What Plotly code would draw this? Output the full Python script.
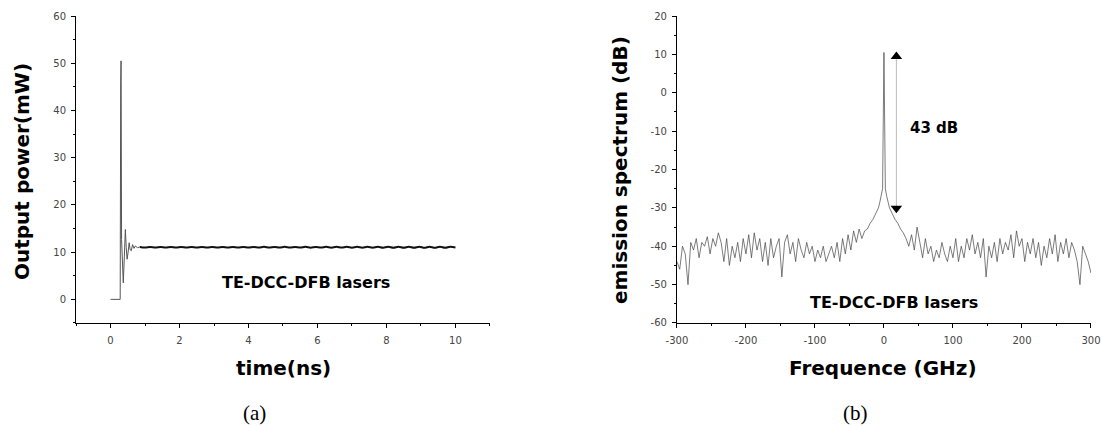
import plotly.graph_objects as go

# ---------------- (a) output power vs time ----------------
t_transient = [0, 0.28, 0.295, 0.305, 0.32, 0.345, 0.37, 0.40, 0.43, 0.455,
               0.48, 0.51, 0.54, 0.57, 0.60, 0.64, 0.68, 0.72, 0.78, 0.85]
p_transient = [0, 0, 46, 50.5, 12.7, 5, 3.5, 9, 14.8, 11,
               8.5, 10, 12, 10.5, 10.3, 11.6, 10.8, 11.3, 10.95, 11.1]

t_steady = [0.85, 1.0, 1.15, 1.3, 1.45, 1.6, 1.75, 1.9, 2.05, 2.2, 2.35, 2.5,
            2.65, 2.8, 2.95, 3.1, 3.25, 3.4, 3.55, 3.7, 3.85, 4.0, 4.15, 4.3,
            4.45, 4.6, 4.75, 4.9, 5.05, 5.2, 5.35, 5.5, 5.65, 5.8, 5.95, 6.1,
            6.25, 6.4, 6.55, 6.7, 6.85, 7.0, 7.15, 7.3, 7.45, 7.6, 7.75, 7.9,
            8.05, 8.2, 8.35, 8.5, 8.65, 8.8, 8.95, 9.1, 9.25, 9.4, 9.55, 9.7,
            9.85, 10.0]
p_steady = [11.1, 10.98, 11.1, 10.97, 11.08, 10.98, 11.1, 10.97, 11.1, 10.98,
            11.08, 10.97, 11.1, 10.98, 11.1, 10.97, 11.08, 10.98, 11.1, 10.97,
            11.1, 10.96, 11.1, 10.97, 11.12, 10.96, 11.1, 10.96, 11.12, 10.96,
            11.1, 10.96, 11.12, 10.95, 11.1, 10.96, 11.12, 10.95, 11.12, 10.96,
            11.12, 10.95, 11.13, 10.94, 11.13, 10.95, 11.14, 10.94, 11.13, 10.93,
            11.14, 10.93, 11.14, 10.92, 11.15, 10.92, 11.15, 10.92, 11.15, 10.92,
            11.12, 11.0]

y1_ticks = [0, 10, 20, 30, 40, 50, 60]
y1_labels = ["0", "10", "20", "30", "40", "50", "60"]
x1_ticks = [0, 2, 4, 6, 8, 10]
x1_labels = ["0", "2", "4", "6", "8", "10"]

# ---------------- (b) emission spectrum ----------------
freq = [-300, -296, -292, -288, -284, -280, -276, -272, -268, -264, -260, -256,
        -252, -248, -244, -240, -236, -232, -228, -224, -220, -216, -212, -208,
        -204, -200, -196, -192, -188, -184, -180, -176, -172, -168, -164, -160,
        -156, -152, -148, -144, -140, -136, -132, -128, -124, -120, -116, -112,
        -108, -104, -100, -96, -92, -88, -84, -80, -76, -72, -68, -64,
        -60, -56, -52, -48, -44, -40, -36, -32,
        -28, -24, -20, -16, -12, -8, -6, -4, -2, 0, 2, 4, 6, 8, 12, 16, 20, 24, 28,
        32, 36, 40, 44, 48, 52, 56, 60, 64, 68, 72, 76, 80, 84, 88, 92,
        96, 100, 104, 108, 112, 116, 120, 124, 128, 132, 136, 140, 144, 148, 152, 156,
        160, 164, 168, 172, 176, 180, 184, 188, 192, 196, 200, 204, 208, 212, 216, 220,
        224, 228, 232, 236, 240, 244, 248, 252, 256, 260, 264, 268, 272, 276, 280, 284,
        288, 292, 296, 300]
spectrum = [-44, -46, -40, -42, -50, -39, -41, -38, -43, -39, -40, -37.5,
            -42, -38, -40, -36.5, -39, -44, -38, -45, -40, -43, -39, -44,
            -38, -42, -37, -43, -36.5, -41, -38, -44, -39, -45, -38, -43,
            -40, -38, -48, -39, -37, -42, -39, -44, -38, -41, -43, -39,
            -42, -40, -44, -41, -43, -40, -44, -42, -40, -43, -39, -44,
            -38, -42, -37, -41, -36, -39, -35.5, -38,
            -36, -35.5, -34, -33, -31.5, -30, -28.5, -27, -25, 10.5, -25, -27, -28.5, -30, -31.5, -33, -34, -35.5, -36.5,
            -38, -40, -37, -41, -35, -39, -43, -38, -42, -40, -44, -41, -43, -39, -42, -44,
            -40, -43, -38, -44, -40, -43, -38, -41, -37, -42, -39, -43, -38, -48, -40, -43,
            -39, -44, -38, -42, -39, -41, -37, -43, -36, -40, -38, -44, -39, -42, -38, -43,
            -39, -45, -40, -43, -38, -42, -37, -44, -39, -42, -38, -43, -39, -41, -44, -50,
            -40, -42, -44, -47]

y2_ticks = [-60, -50, -40, -30, -20, -10, 0, 10, 20]
y2_labels = ["-60", "-50", "-40", "-30", "-20", "-10", "0", "10", "20"]
x2_ticks = [-300, -200, -100, 0, 100, 200, 300]
x2_labels = ["-300", "-200", "-100", "0", "100", "200", "300"]

arrow_x = [18, 18]
arrow_y = [-30.1, 9.45]

fig = go.Figure()

fig.add_trace(go.Scatter(x=t_transient, y=p_transient, mode="lines",
                         line=dict(color="#555555", width=1),
                         xaxis="x", yaxis="y", showlegend=False))
fig.add_trace(go.Scatter(x=t_steady, y=p_steady, mode="lines",
                         line=dict(color="#111111", width=2, shape="spline"),
                         xaxis="x", yaxis="y", showlegend=False))

fig.add_trace(go.Scatter(x=freq, y=spectrum, mode="lines",
                         line=dict(color="#444444", width=0.7),
                         xaxis="x2", yaxis="y2", showlegend=False))
fig.add_trace(go.Scatter(x=arrow_x, y=arrow_y, mode="lines+markers",
                         line=dict(color="#bbbbbb", width=1),
                         marker=dict(symbol=["triangle-down", "triangle-up"],
                                     size=10, color="black"),
                         xaxis="x2", yaxis="y2", showlegend=False))

tickfont = dict(family="DejaVu Sans", size=10, color="#444444")
common = dict(showline=True, linecolor="black", linewidth=1, ticks="outside",
              ticklen=4, tickcolor="black", tickfont=tickfont, showgrid=False,
              zeroline=False, mirror=False, automargin=False, tickmode="array")

fig.update_layout(
    width=1102, height=427, margin=dict(l=0, r=0, t=0, b=0, autoexpand=False),
    paper_bgcolor="white", plot_bgcolor="white",
    xaxis=dict(domain=[0.069, 0.4446], range=[-1, 11],
               tickvals=x1_ticks, ticktext=x1_labels, ticklabelstandoff=4,
               minor=dict(dtick=1, tick0=0, ticks="outside", ticklen=2, tickcolor="black"),
               anchor="y", **common),
    yaxis=dict(domain=[0.2436, 0.9625], range=[-5, 60],
               tickvals=y1_ticks, ticktext=y1_labels, ticklabelstandoff=3,
               minor=dict(dtick=5, tick0=0, ticks="outside", ticklen=2, tickcolor="black"),
               anchor="x", **common),
    xaxis2=dict(domain=[0.6143, 0.990], range=[-300, 300],
                tickvals=x2_ticks, ticktext=x2_labels, ticklabelstandoff=4,
                minor=dict(dtick=50, tick0=0, ticks="outside", ticklen=2, tickcolor="black"),
                anchor="y2", **common),
    yaxis2=dict(domain=[0.2436, 0.9625], range=[-60, 20],
                tickvals=y2_ticks, ticktext=y2_labels, ticklabelstandoff=3,
                minor=dict(dtick=5, tick0=0, ticks="outside", ticklen=2, tickcolor="black"),
                anchor="x2", **common),
)

bold = dict(family="DejaVu Sans", size=20, color="black")
label = dict(family="DejaVu Sans", size=16, color="black")
serif = dict(family="Liberation Serif", size=21, color="black")

def ann(text, x, y, font, angle=0):
    fig.add_annotation(text=text, x=x / 1102, y=1 - y / 427, xref="paper", yref="paper",
                       showarrow=False, font=font, textangle=angle,
                       xanchor="center", yanchor="middle")

ann("<b>Output power(mW)</b>", 22, 172, bold, -90)
ann("<b>time(ns)</b>", 283, 368, bold)
ann("<b>TE-DCC-DFB lasers</b>", 306, 282, label)
ann("(a)", 255, 413, serif)

ann("<b>emission spectrum (dB)</b>", 620, 170, bold, -90)
ann("<b>Frequence (GHz)</b>", 883, 368, bold)
ann("<b>TE-DCC-DFB lasers</b>", 894, 302, label)
ann("<b>43 dB</b>", 934, 128, dict(family="DejaVu Sans", size=15, color="black"))
ann("(b)", 855, 413, serif)

fig.write_html("out.html")
